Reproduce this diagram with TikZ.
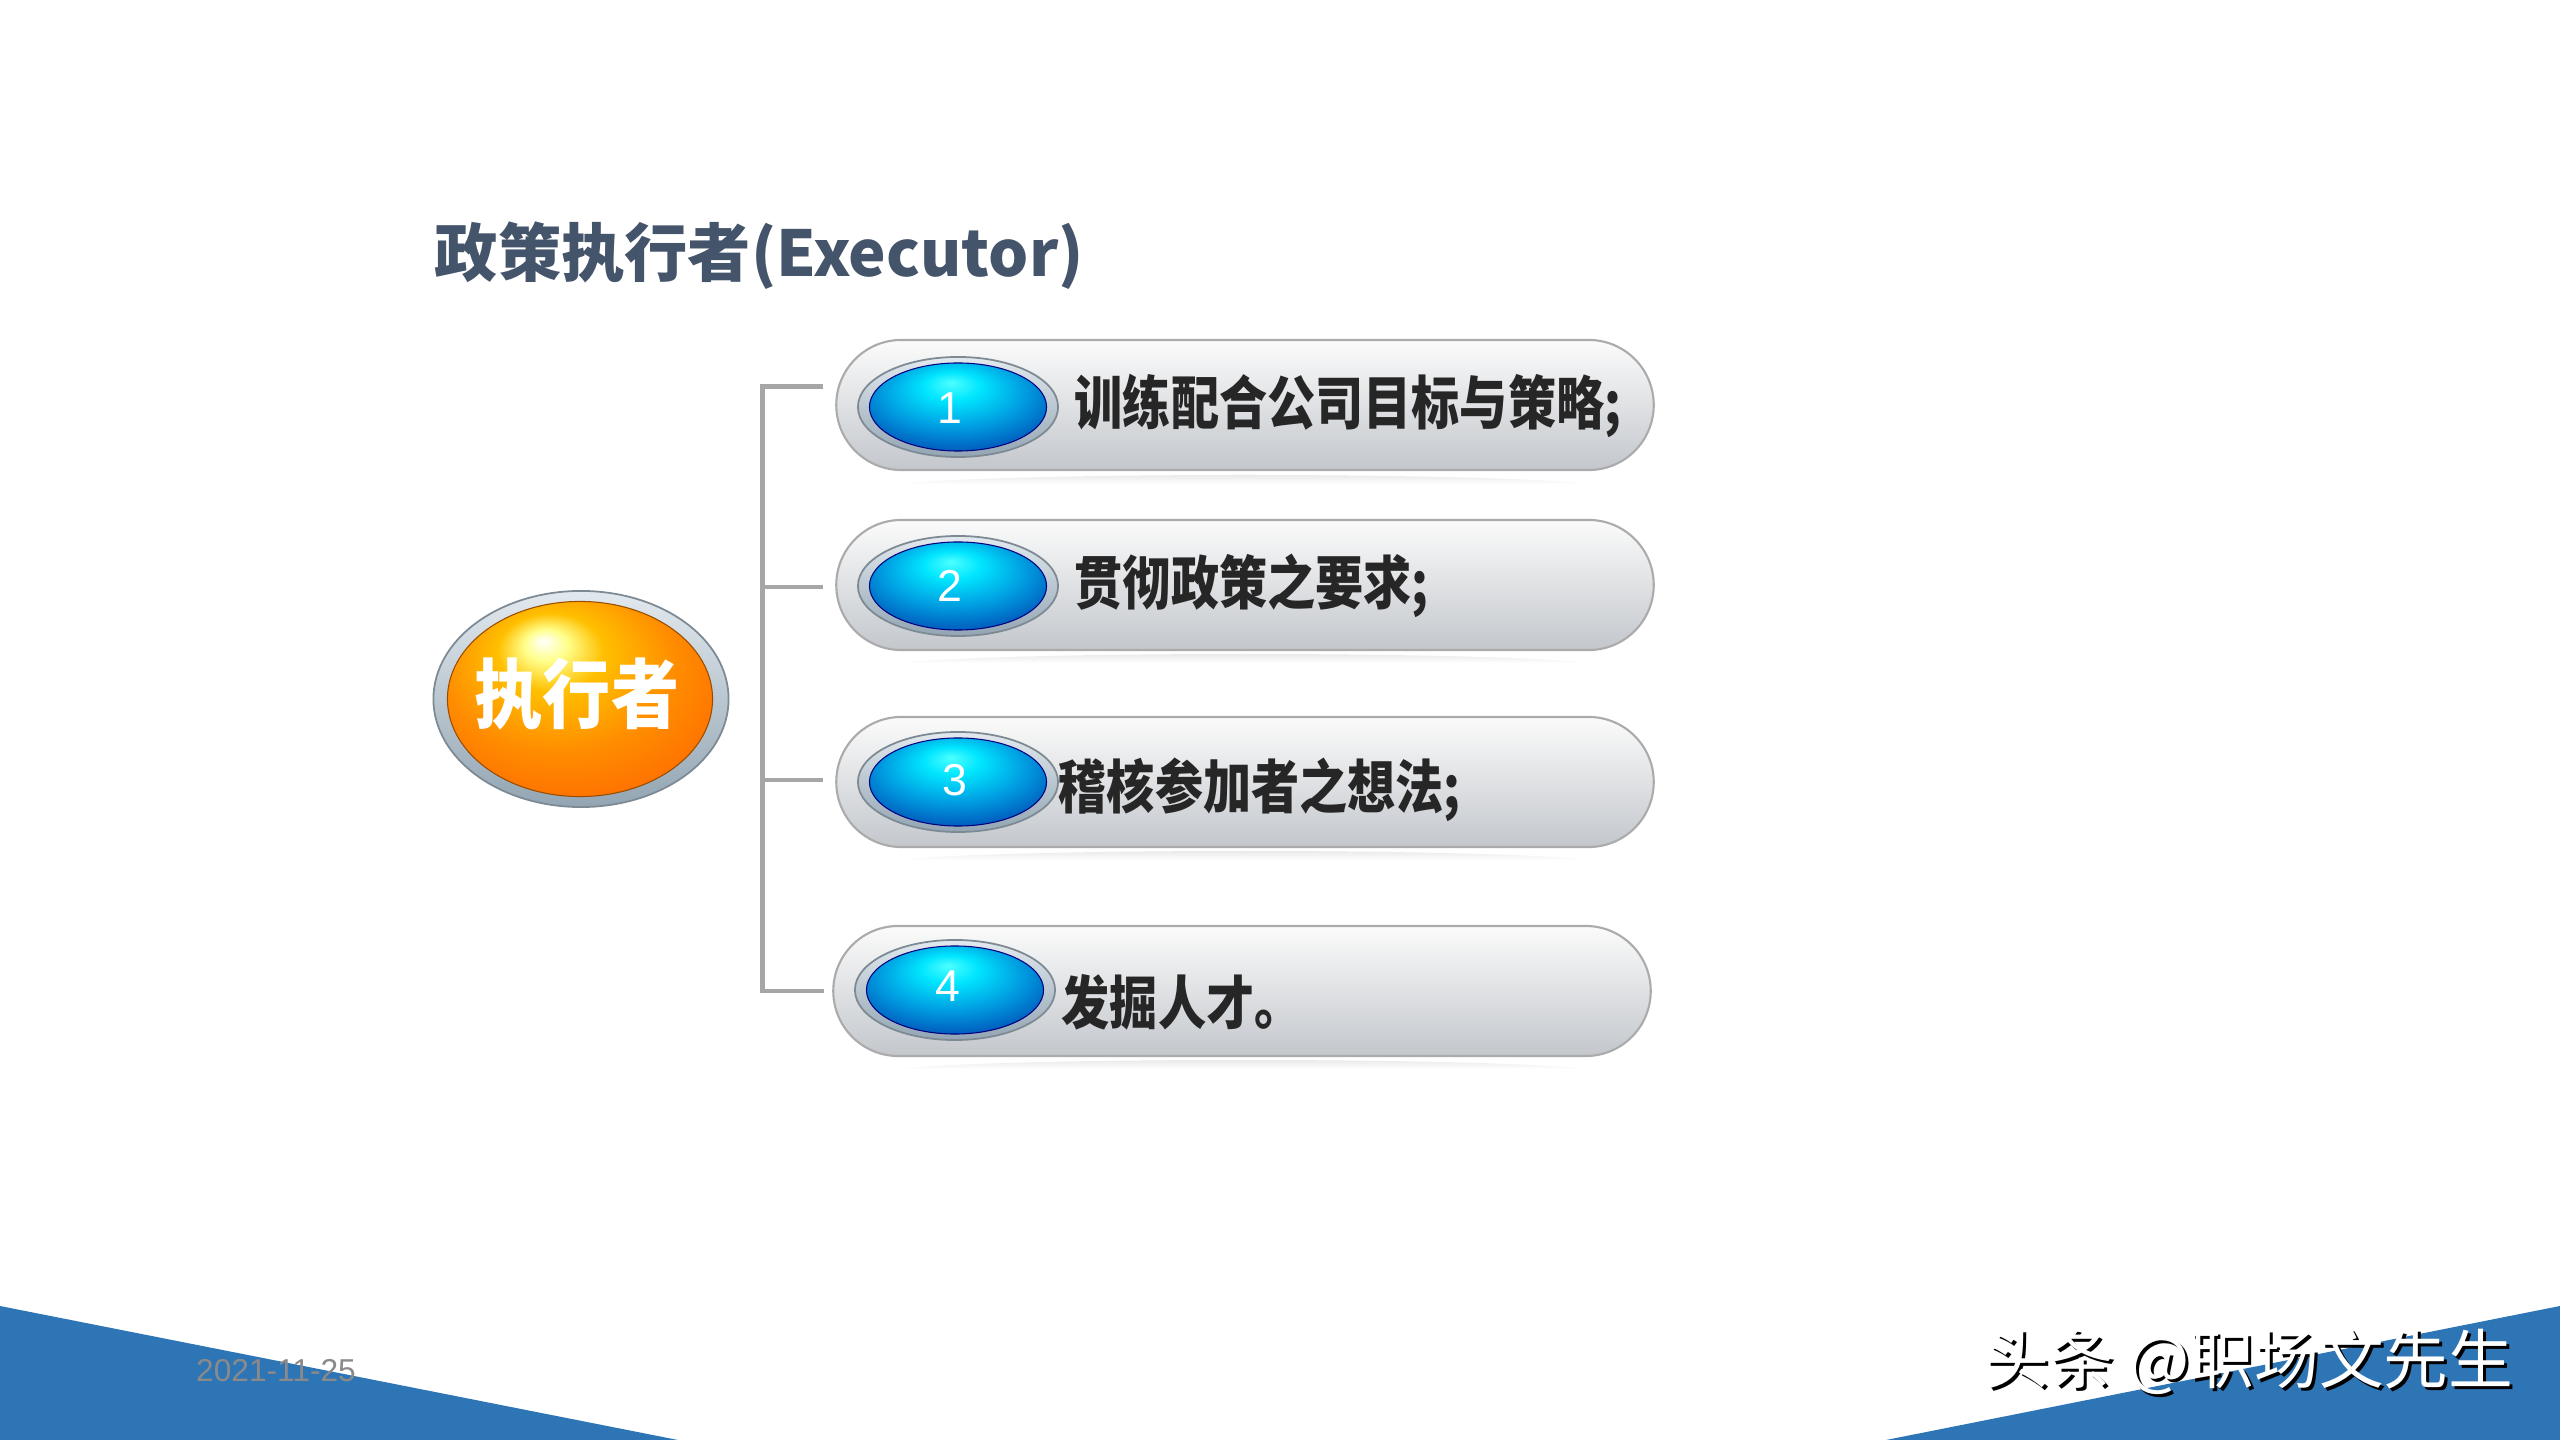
\documentclass[tikz,border=0pt]{standalone}
\usepackage{fontspec}
\usepackage{xcolor}
\usepackage{tikz}
\setmainfont{Liberation Sans}
\newfontfamily\cjk{Noto Sans CJK SC}
\newfontfamily\cjknarrow[FakeStretch=0.83]{Noto Sans CJK SC}
\newfontfamily\cjktall[FakeStretch=0.9]{Noto Sans CJK SC}
\usetikzlibrary{shapes.geometric,shapes.misc}

\definecolor{titlecol}{HTML}{44546A}
\definecolor{slideblue}{HTML}{2E75B6}
\definecolor{linkgray}{HTML}{A6A6A6}
\definecolor{itemtext}{HTML}{262626}
\definecolor{pilltop}{HTML}{FBFBFB}
\definecolor{pillbot}{HTML}{C3C7CC}
\definecolor{pillline}{HTML}{ABABAB}
\definecolor{ringtop}{HTML}{E2E9EE}
\definecolor{ringbot}{HTML}{93A5B3}
\definecolor{ringedge}{HTML}{7D8A94}
\definecolor{datecol}{HTML}{8A8A8A}

% shading of the blue buttons and of the orange one
\pgfdeclareradialshading{bluebtn}{\pgfpoint{-2bp}{14bp}}{color(0bp)=(cyan!70!white); color(8bp)=(cyan!90!blue); color(20bp)=(blue!30!cyan!88!black); color(32bp)=(blue!55!cyan!72!black); color(50bp)=(blue!60!cyan!60!black)}
\pgfdeclareradialshading{orangebtn}{\pgfpoint{-7bp}{15bp}}{color(0bp)=(white); color(4bp)=(yellow!45!white); color(10bp)=(orange!50!yellow); color(22bp)=(orange!90!yellow); color(36bp)=(orange!80!red); color(50bp)=(orange!80!red)}

\begin{document}
\begin{tikzpicture}[x=0.01cm, y=-0.01cm,
    pill/.style={rounded rectangle, minimum width=8.17cm, minimum height=1.3cm, inner sep=0pt,
      draw=pillline, line width=0.6pt, top color=pilltop, bottom color=pillbot},
    ring/.style={ellipse, minimum width=2cm, minimum height=1cm, inner sep=0pt,
      draw=ringedge, line width=0.5pt, top color=ringtop, bottom color=ringbot},
    btn/.style={ellipse, minimum width=1.77cm, minimum height=0.88cm, inner sep=0pt,
      draw=blue!50!black, line width=0.3pt, shading=bluebtn},
    num/.style={text=white, font=\fontsize{12.7}{13}\selectfont},
    item/.style={anchor=west, inner sep=0pt, text=itemtext, font=\cjknarrow\bfseries\fontsize{16.5}{17}\selectfont},
    conn/.style={draw=linkgray, line width=1.42pt},
    refl/.style={top color=gray!22, bottom color=white, draw=none}]

  \useasboundingbox (0,0) rectangle (2560,1440);

  % Slide corners
  \fill[slideblue] (0,1306) -- (678,1440) -- (0,1440) -- cycle;
  \fill[slideblue] (2560,1306) -- (2560,1440) -- (1886,1440) -- cycle;

  % Title
  \node[anchor=west, inner sep=0pt, text=titlecol, font=\cjk\bfseries\fontsize{18}{19}\selectfont] (title) at (434,256) {政策执行者(Executor)};

  % Executor button
  \node[ellipse, minimum width=2.95cm, minimum height=2.16cm, inner sep=0pt, draw=ringedge, line width=0.5pt, top color=ringtop, bottom color=ringbot] (execring) at (581,699) {};
  \node[ellipse, minimum width=2.65cm, minimum height=1.95cm, inner sep=0pt, draw=orange!60!black, line width=0.3pt, shading=orangebtn] (exec) at (580,699) {};
  \node[text=white, font=\cjktall\bfseries\fontsize{21.5}{22}\selectfont] (exectext) at (577,694) {执行者};

  % Item 1
  \shade[refl] (900,484) .. controls (1000,472) and (1490,472) .. (1590,484) -- cycle;
  \node[pill] (p1) at (1245,405) {};
  \node[ring] (r1) at (958,407) {};
  \node[btn] (b1) at (958,407) {};
  \node[num] (n1) at (950,408) {1};
  \node[item] (t1) at (1074,406) {训练配合公司目标与策略;};

  % Item 2
  \shade[refl] (900,663) .. controls (1000,651) and (1490,651) .. (1590,663) -- cycle;
  \node[pill] (p2) at (1245,585) {};
  \node[ring] (r2) at (958,586) {};
  \node[btn] (b2) at (958,586) {};
  \node[num] (n2) at (950,586) {2};
  \node[item] (t2) at (1074,586) {贯彻政策之要求;};

  % Item 3
  \shade[refl] (900,860) .. controls (1000,848) and (1490,848) .. (1590,860) -- cycle;
  \node[pill] (p3) at (1245,782) {};
  \node[ring] (r3) at (958,782) {};
  \node[btn] (b3) at (958,782) {};
  \node[num] (n3) at (955,780) {3};
  \node[item] (t3) at (1058,790) {稽核参加者之想法;};

  % Item 4
  \shade[refl] (897,1069) .. controls (997,1057) and (1487,1057) .. (1587,1069) -- cycle;
  \node[pill] (p4) at (1242,991) {};
  \node[ring] (r4) at (955,990) {};
  \node[btn] (b4) at (955,990) {};
  \node[num] (n4) at (948,986) {4};
  \node[item] (t4) at (1061,1002) {发掘人才。};

  % Bracket from the spine to the items
  \coordinate (c1) at ([xshift=-0.12cm, yshift=0.18cm]p1.west);
  \coordinate (c2) at ([xshift=-0.12cm, yshift=-0.02cm]p2.west);
  \coordinate (c3) at ([xshift=-0.12cm, yshift=0.02cm]p3.west);
  \coordinate (c4) at ([xshift=-0.08cm]p4.west);
  \draw[conn] (c1) -- ++(-61,0) |- (c4);
  \draw[conn] (c2) -- ++(-61,0);
  \draw[conn] (c3) -- ++(-61,0);

  % Footer
  \node[text=datecol, font=\fontsize{9}{10}\selectfont] (date) at (276,1371) {2021-11-25};
  \node[text=black, font=\cjk\fontsize{18.4}{19}\selectfont] (markshadow) at (2252,1365) {头条 @职场文先生};
  \node[text=white, font=\cjk\fontsize{18.4}{19}\selectfont] (mark) at (2249,1362) {头条 @职场文先生};
\end{tikzpicture}
\end{document}
